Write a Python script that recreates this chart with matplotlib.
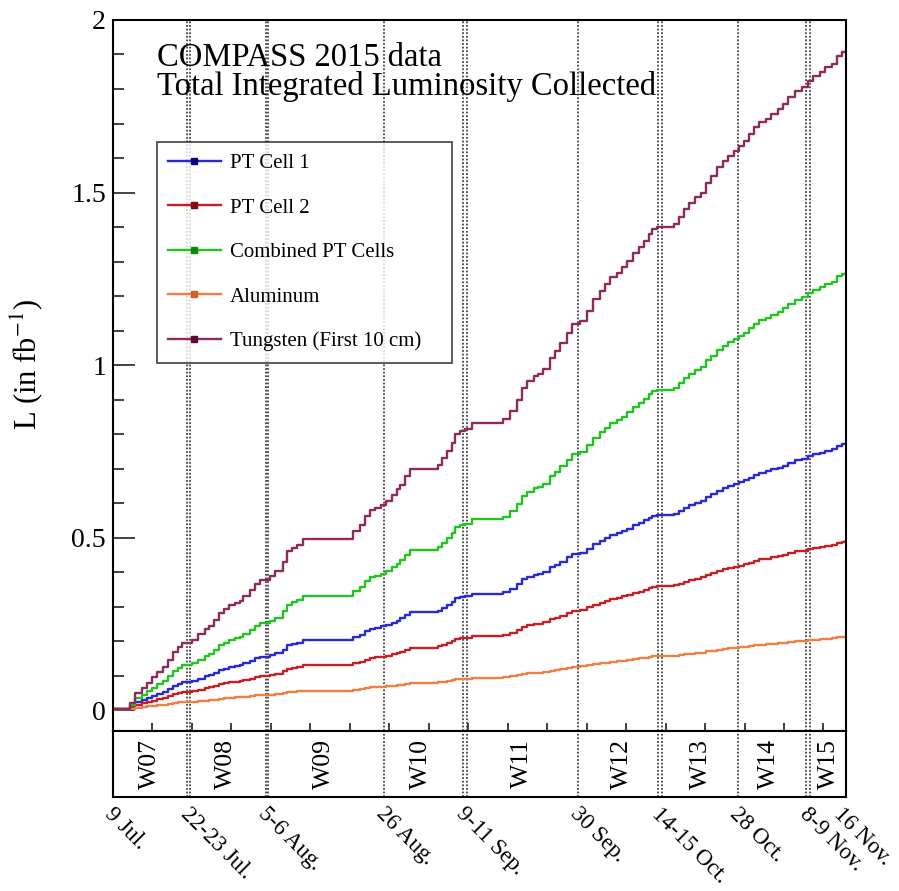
import matplotlib.pyplot as plt
import matplotlib.transforms as mtransforms
from matplotlib.lines import Line2D

plt.rcParams["font.family"] = ["Liberation Serif", "DejaVu Serif"]
plt.rcParams["mathtext.fontset"] = "stix"

# days since 9 Jul. 2015 at which each step starts
days = [0.0, 3.0, 3.9, 5.1, 6.0, 6.9, 7.8, 8.9, 9.8, 10.6,
        11.5, 12.2, 14.0, 15.0, 16.3, 17.0, 17.9, 18.8, 19.6, 20.5,
        21.6, 22.5, 23.1, 24.3, 25.2, 26.1, 27.8, 28.7, 30.1, 30.9,
        31.8, 32.6, 33.7, 42.6, 43.8, 44.7, 45.6, 46.5, 47.6, 48.5,
        49.4, 50.3, 50.9, 51.8, 52.7, 57.6, 58.3, 59.2, 60.1, 60.6,
        61.5, 62.4, 63.6, 69.2, 70.4, 71.6, 72.5, 73.4, 74.6, 75.4,
        76.3, 77.5, 78.4, 79.3, 80.5, 81.4, 82.8, 84.0, 85.2, 86.3,
        87.2, 88.1, 89.3, 90.2, 91.1, 92.3, 93.2, 94.1, 95.0, 95.6,
        96.5, 99.4, 100.3, 101.2, 102.1, 103.3, 104.2, 105.1, 106.0, 107.2,
        108.1, 109.0, 110.2, 111.1, 111.9, 112.8, 113.7, 114.6, 115.8, 116.7,
        117.9, 118.8, 119.7, 120.9, 122.1, 123.3, 124.2, 125.4, 126.3, 127.5,
        128.4, 129.3, 130.0]

tungsten = [0.005, 0.020, 0.050, 0.065, 0.080, 0.095, 0.110, 0.126, 0.146, 0.170,
            0.184, 0.195, 0.205, 0.220, 0.236, 0.245, 0.262, 0.283, 0.292, 0.304,
            0.312, 0.318, 0.330, 0.349, 0.365, 0.378, 0.388, 0.403, 0.431, 0.460,
            0.470, 0.480, 0.497, 0.520, 0.538, 0.562, 0.580, 0.587, 0.596, 0.606,
            0.625, 0.640, 0.654, 0.678, 0.698, 0.712, 0.732, 0.751, 0.775, 0.800,
            0.809, 0.814, 0.833, 0.845, 0.867, 0.900, 0.935, 0.954, 0.968, 0.973,
            0.988, 1.022, 1.041, 1.065, 1.094, 1.118, 1.128, 1.157, 1.191, 1.215,
            1.234, 1.254, 1.268, 1.283, 1.302, 1.326, 1.341, 1.360, 1.379, 1.394,
            1.399, 1.410, 1.428, 1.452, 1.471, 1.486, 1.500, 1.529, 1.549, 1.573,
            1.592, 1.607, 1.621, 1.636, 1.650, 1.670, 1.689, 1.704, 1.713, 1.728,
            1.742, 1.757, 1.776, 1.795, 1.805, 1.824, 1.839, 1.849, 1.863, 1.873,
            1.897, 1.907, 1.910]

combined = [0.005, 0.015, 0.035, 0.045, 0.055, 0.065, 0.075, 0.085, 0.098, 0.114,
            0.123, 0.131, 0.137, 0.147, 0.158, 0.164, 0.175, 0.189, 0.195, 0.203,
            0.208, 0.212, 0.220, 0.233, 0.243, 0.252, 0.259, 0.268, 0.287, 0.306,
            0.313, 0.319, 0.331, 0.346, 0.358, 0.374, 0.386, 0.390, 0.396, 0.403,
            0.415, 0.425, 0.435, 0.451, 0.464, 0.473, 0.486, 0.499, 0.515, 0.531,
            0.537, 0.541, 0.553, 0.561, 0.576, 0.597, 0.621, 0.633, 0.643, 0.646,
            0.656, 0.678, 0.691, 0.707, 0.726, 0.742, 0.748, 0.768, 0.790, 0.806,
            0.819, 0.832, 0.841, 0.851, 0.864, 0.880, 0.889, 0.902, 0.915, 0.925,
            0.928, 0.935, 0.947, 0.963, 0.975, 0.985, 0.995, 1.014, 1.027, 1.043,
            1.056, 1.066, 1.075, 1.085, 1.094, 1.107, 1.120, 1.130, 1.136, 1.146,
            1.155, 1.165, 1.177, 1.190, 1.197, 1.209, 1.219, 1.226, 1.235, 1.242,
            1.257, 1.264, 1.266]

pt_cell1 = [0.005, 0.011, 0.023, 0.029, 0.035, 0.041, 0.047, 0.054, 0.062, 0.071,
            0.077, 0.081, 0.085, 0.091, 0.098, 0.101, 0.108, 0.117, 0.120, 0.125,
            0.128, 0.131, 0.136, 0.143, 0.150, 0.155, 0.159, 0.165, 0.176, 0.188,
            0.192, 0.196, 0.203, 0.212, 0.219, 0.229, 0.236, 0.239, 0.243, 0.247,
            0.254, 0.260, 0.266, 0.276, 0.284, 0.289, 0.297, 0.305, 0.315, 0.325,
            0.328, 0.330, 0.338, 0.343, 0.352, 0.365, 0.379, 0.386, 0.392, 0.394,
            0.400, 0.414, 0.421, 0.431, 0.443, 0.452, 0.456, 0.468, 0.482, 0.491,
            0.499, 0.507, 0.513, 0.519, 0.526, 0.536, 0.542, 0.550, 0.557, 0.563,
            0.565, 0.570, 0.577, 0.587, 0.594, 0.600, 0.606, 0.618, 0.626, 0.635,
            0.643, 0.649, 0.655, 0.661, 0.666, 0.674, 0.682, 0.688, 0.692, 0.698,
            0.703, 0.709, 0.717, 0.725, 0.729, 0.736, 0.742, 0.746, 0.752, 0.756,
            0.766, 0.770, 0.771]

pt_cell2 = [0.005, 0.009, 0.016, 0.020, 0.024, 0.028, 0.032, 0.036, 0.041, 0.047,
            0.050, 0.053, 0.056, 0.060, 0.064, 0.066, 0.070, 0.076, 0.078, 0.081,
            0.083, 0.085, 0.088, 0.092, 0.096, 0.100, 0.102, 0.106, 0.113, 0.121,
            0.123, 0.126, 0.130, 0.136, 0.140, 0.146, 0.151, 0.153, 0.155, 0.158,
            0.162, 0.166, 0.170, 0.176, 0.181, 0.185, 0.190, 0.194, 0.201, 0.207,
            0.209, 0.210, 0.215, 0.218, 0.224, 0.232, 0.241, 0.246, 0.250, 0.251,
            0.255, 0.263, 0.268, 0.274, 0.282, 0.288, 0.290, 0.298, 0.306, 0.312,
            0.317, 0.322, 0.326, 0.330, 0.334, 0.341, 0.344, 0.349, 0.354, 0.358,
            0.359, 0.362, 0.366, 0.373, 0.377, 0.381, 0.385, 0.392, 0.397, 0.403,
            0.408, 0.412, 0.415, 0.419, 0.423, 0.428, 0.433, 0.437, 0.439, 0.443,
            0.446, 0.450, 0.455, 0.460, 0.462, 0.467, 0.471, 0.473, 0.477, 0.479,
            0.486, 0.488, 0.489]

aluminum = [0.003, 0.005, 0.008, 0.010, 0.011, 0.013, 0.015, 0.016, 0.019, 0.021,
            0.023, 0.024, 0.025, 0.027, 0.028, 0.029, 0.031, 0.034, 0.035, 0.036,
            0.037, 0.037, 0.039, 0.041, 0.043, 0.044, 0.045, 0.047, 0.050, 0.053,
            0.054, 0.055, 0.057, 0.060, 0.062, 0.064, 0.066, 0.067, 0.068, 0.069,
            0.071, 0.073, 0.074, 0.077, 0.079, 0.081, 0.083, 0.085, 0.088, 0.090,
            0.091, 0.092, 0.094, 0.095, 0.098, 0.101, 0.105, 0.107, 0.109, 0.109,
            0.111, 0.115, 0.117, 0.120, 0.123, 0.125, 0.127, 0.130, 0.133, 0.136,
            0.138, 0.140, 0.142, 0.144, 0.146, 0.148, 0.150, 0.152, 0.154, 0.156,
            0.156, 0.158, 0.160, 0.162, 0.164, 0.166, 0.167, 0.171, 0.173, 0.175,
            0.178, 0.179, 0.181, 0.182, 0.184, 0.186, 0.188, 0.190, 0.191, 0.193,
            0.194, 0.196, 0.198, 0.200, 0.201, 0.203, 0.205, 0.206, 0.207, 0.208,
            0.211, 0.212, 0.213]

run_lines = [13.2, 13.7, 27.1, 27.55, 48.1, 62.0, 62.75, 82.5, 96.7, 97.3,
             110.75, 122.9, 123.6]
date_pos = [0, 13.4, 27.3, 48.1, 62.4, 82.5, 97.0, 110.75, 123.2, 129.3]
date_labels = ["9 Jul.", "22-23 Jul.", "5-6 Aug.", "26 Aug.", "9-11 Sep.",
               "30 Sep.", "14-15 Oct.", "28 Oct.", "8-9 Nov.", "16 Nov."]
week_pos = [6.5, 20.0, 37.4, 54.6, 72.6, 90.2, 104.2, 116.4, 126.9]
week_labels = ["W07", "W08", "W09", "W10", "W11", "W12", "W13", "W14", "W15"]

series = [
    ("PT Cell 1", pt_cell1, "#2a2ad2", "#0a0a80"),
    ("PT Cell 2", pt_cell2, "#c42026", "#800a10"),
    ("Combined PT Cells", combined, "#22c422", "#0a8a0a"),
    ("Aluminum", aluminum, "#f07f45", "#d0602a"),
    ("Tungsten (First 10 cm)", tungsten, "#8e2a5c", "#5a0a35"),
]

fig = plt.figure(figsize=(8.99, 8.91), dpi=100)
ax = fig.add_axes([0.1257, 0.1796, 0.8154, 0.798])
ax2 = fig.add_axes([0.1257, 0.1055, 0.8154, 0.0741], sharex=ax)

handles = []
for name, vals, col, dark in series:
    ax.plot(days, vals, drawstyle="steps-post", color=col, linewidth=1.7)
    handles.append(Line2D([], [], color=col, linewidth=1.7, marker="s",
                          markersize=5, markerfacecolor=dark,
                          markeredgecolor=dark, label=name))

for d in run_lines:
    for a in (ax, ax2):
        a.axvline(d, color="#444444", linewidth=1.3, linestyle=(0, (1, 1)),
                  zorder=0)

ax.set_xlim(0, 130)
ax.set_ylim(-0.06, 2.0)
ax.set_yticks([0, 0.5, 1, 1.5, 2])
ax.set_yticklabels(["0", "0.5", "1", "1.5", "2"])
ax.set_yticks([i / 10 for i in range(20)], minor=True)
ax.set_xticks(range(7, 130, 7))
ax.tick_params(axis="y", which="major", direction="in", length=16, width=1.3,
               labelsize=20, pad=5, color="#333333")
ax.tick_params(axis="y", which="minor", direction="in", length=8, width=1.3,
               color="#333333")
ax.tick_params(axis="x", which="major", direction="in", length=6, width=1.3,
               labelbottom=False, color="#333333")
for sp in ax.spines.values():
    sp.set_linewidth(1.5)

ax.set_ylabel("L (in fb$^{-1}$)", fontsize=22)
ax.yaxis.set_label_coords(-0.093, 0.515)

ax.text(0.060, 0.935, "COMPASS 2015 data", transform=ax.transAxes,
        fontsize=23.5, va="baseline")
ax.text(0.060, 0.8945, "Total Integrated Luminosity Collected",
        transform=ax.transAxes, fontsize=23.5, va="baseline")

leg = ax.legend(handles=handles, loc="upper left",
                bbox_to_anchor=(0.060, 0.5204, 0.4025, 0.308), mode="expand",
                fontsize=15, frameon=True, fancybox=False, borderpad=0.55,
                labelspacing=1.2, handlelength=2.5, handletextpad=0.45,
                borderaxespad=0)
leg.get_frame().set_edgecolor("#222222")
leg.get_frame().set_linewidth(1.3)

ax2.set_ylim(0, 1)
ax2.tick_params(left=False, bottom=False, labelleft=False, labelbottom=False)
for sp in ax2.spines.values():
    sp.set_linewidth(1.5)

for p, w in zip(week_pos, week_labels):
    ax2.text(p, 0.5, w, rotation=90, ha="center", va="center", fontsize=18.5)

trans = mtransforms.blended_transform_factory(ax2.transData, ax2.transAxes)
for p, lab in zip(date_pos, date_labels):
    ax2.text(p - 0.9, -0.21, lab, transform=trans, rotation=-45,
             rotation_mode="anchor", ha="left", va="center", fontsize=16.5)

fig.savefig("out.png", dpi=100)
